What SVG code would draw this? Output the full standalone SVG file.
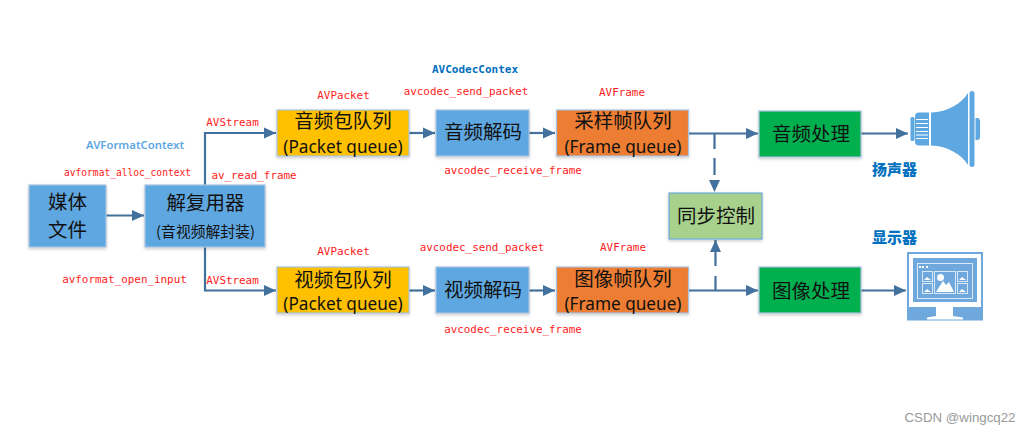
<svg xmlns="http://www.w3.org/2000/svg" width="1029" height="433" viewBox="0 0 1029 433">
<style>
text{font-family:"Noto Sans CJK SC","Noto Sans",sans-serif;text-anchor:middle;fill:#111}
.b{stroke:#a9c4e0;stroke-width:1.2;filter:url(#sh)}
.blue{fill:#5ea7e0}.yel{fill:#ffc000}.org{fill:#ed7d31}.grn{fill:#00b050}
.z{font-size:19.5px}.q{font-size:17.2px;font-family:"Noto Sans","Noto Sans CJK SC",sans-serif}
.s{font-size:14.8px}
.r{font-family:"DejaVu Sans Mono","Liberation Mono",monospace;font-size:10.9px;fill:#ff1a1a}
.t{font-family:"DejaVu Sans Mono","Liberation Mono",monospace;font-size:11px;font-weight:bold}
.l{font-size:15px;font-weight:900;fill:#0070c0}
.c{fill:none;stroke:#41719c;stroke-width:2.2}
.ic{fill:#5ea7e0}.w{fill:#fff}.m{fill:#6fa8dc}
</style>
<defs>
<filter id="sh" x="-10%" y="-10%" width="120%" height="125%"><feDropShadow dx="0" dy="1.5" stdDeviation="1.5" flood-color="#000" flood-opacity=".2"/></filter>
<marker id="a" markerUnits="userSpaceOnUse" markerWidth="13" markerHeight="12" refX="12" refY="6" orient="auto"><path d="M0,0.5L12,6L0,11.500z" fill="#41719c"/></marker>
</defs>
<g id="connectors">
<path class="c" marker-end="url(#a)" d="M106,215.500H144"/>
<path class="c" marker-end="url(#a)" d="M205,185V133H276"/>
<path class="c" marker-end="url(#a)" d="M205,247V290.500H276"/>
<path class="c" marker-end="url(#a)" d="M409,133H435"/>
<path class="c" marker-end="url(#a)" d="M529,133H555"/>
<path class="c" marker-end="url(#a)" d="M688,133.500H758"/>
<path class="c" marker-end="url(#a)" d="M409,290.500H435"/>
<path class="c" marker-end="url(#a)" d="M529,290.500H555"/>
<path class="c" marker-end="url(#a)" d="M688,290.500H758"/>
<path class="c" marker-end="url(#a)" d="M861,133.500H908"/>
<path class="c" marker-end="url(#a)" d="M861,290.500H906"/>
<path class="c" stroke-dasharray="16 9 17 100" marker-end="url(#a)" d="M714.500,133V192"/>
<path class="c" stroke-dasharray="14 10 26 100" marker-end="url(#a)" d="M715.500,290V240"/>
</g>
<g id="n-media"><rect class="b blue" x="29" y="185" width="77" height="62"/><text class="z"><tspan x="67.500" y="209">媒体</tspan><tspan x="67.500" y="237.400">文件</tspan></text></g>
<g id="n-demux"><rect class="b blue" x="145" y="185" width="120" height="62"/><text class="z" x="205.500" y="210">解复用器</text><text class="s" x="205.500" y="236.500">(音视频解封装)</text></g>
<g id="n-apq"><rect class="b yel" x="277" y="110" width="132" height="46"/><text class="z" x="343" y="128">音频包队列</text><text class="q" x="343" y="153">(Packet queue)</text></g>
<g id="n-vpq"><rect class="b yel" x="277" y="267" width="132" height="46"/><text class="z" x="343" y="287">视频包队列</text><text class="q" x="343" y="310">(Packet queue)</text></g>
<g id="n-adec"><rect class="b blue" x="436" y="110" width="93" height="46"/><text class="z" x="483" y="139">音频解码</text></g>
<g id="n-vdec"><rect class="b blue" x="436" y="267" width="93" height="46"/><text class="z" x="483" y="297">视频解码</text></g>
<g id="n-afq"><rect class="b org" x="556.500" y="110" width="132" height="46"/><text class="z" x="623" y="128">采样帧队列</text><text class="q" x="623" y="153">(Frame queue)</text></g>
<g id="n-vfq"><rect class="b org" x="556.500" y="267" width="132" height="46"/><text class="z" x="623" y="286">图像帧队列</text><text class="q" x="623" y="310">(Frame queue)</text></g>
<g id="n-aproc"><rect class="b grn" x="759" y="111" width="102" height="46"/><text class="z" x="811" y="141">音频处理</text></g>
<g id="n-vproc"><rect class="b grn" x="759" y="267" width="102" height="46"/><text class="z" x="811" y="298">图像处理</text></g>
<g id="n-sync"><rect class="b" x="669" y="193" width="93" height="46" style="fill:#a9d18e;stroke:#6fa8dc"/><text class="z" x="716" y="223">同步控制</text></g>
<g id="labels">
<text x="135" y="149" textLength="98" lengthAdjust="spacingAndGlyphs" style="font-family:'Noto Sans',sans-serif;font-size:11.5px;font-weight:600;fill:#5ea7e0">AVFormatContext</text>
<text class="t" x="475" y="73" style="fill:#0070c0">AVCodecContex</text>
<text class="r" x="127.500" y="176" textLength="127" lengthAdjust="spacingAndGlyphs">avformat_alloc_context</text>
<text class="r" x="254" y="179">av_read_frame</text>
<text class="r" x="232.500" y="126">AVStream</text>
<text class="r" x="343.500" y="99">AVPacket</text>
<text class="r" x="466" y="95">avcodec_send_packet</text>
<text class="r" x="622" y="96">AVFrame</text>
<text class="r" x="513" y="174">avcodec_receive_frame</text>
<text class="r" x="124.500" y="283">avformat_open_input</text>
<text class="r" x="232.500" y="284">AVStream</text>
<text class="r" x="343.500" y="255">AVPacket</text>
<text class="r" x="482" y="251">avcodec_send_packet</text>
<text class="r" x="623" y="251">AVFrame</text>
<text class="r" x="513" y="333">avcodec_receive_frame</text>
<text class="l" x="894.500" y="175">扬声器</text>
<text class="l" x="894.500" y="243">显示器</text>
<text x="960" y="421.500" style="font-family:'Liberation Sans',sans-serif;font-size:13.300px;fill:#999">CSDN @wingcq22</text>
</g>
<g id="n-speaker">
<rect class="ic" x="910.500" y="117" width="4" height="24" rx="1.500"/>
<path class="ic" d="M919,112.500H929V145.500H919a4,4 0 0 1-4-4V116.500a4,4 0 0 1 4-4z"/>
<path class="ic" d="M931,112.500C948,112 962,103 968,93V165C962,155 948,146 931,145.500z"/>
<rect class="ic" x="969.500" y="91" width="5" height="76" rx="2.500"/>
<path class="ic" d="M975.500,118H977a3,3 0 0 1 3,3V137a3,3 0 0 1-3,3H975.500z"/>
<path stroke="#fff" stroke-width="1" d="M916,119.500H928M916,123.500H928M916,127.500H928M916,131.500H928M916,135H928M916,138.500H928"/>
</g>
<g id="n-monitor">
<rect class="m" x="907" y="252" width="76" height="68.500"/>
<rect class="w" x="909" y="254" width="72" height="53"/>
<path class="w" d="M936,307H953V316L963,317.500V319.500H927V317.500L936,316z"/>
<rect class="m" x="913" y="258" width="64" height="44"/>
<rect x="917.500" y="263.500" width="55" height="35" fill="none" stroke="#d8e8f6" stroke-width="1"/>
<rect x="919" y="266" width="2" height="2" class="w"/><rect x="922" y="266" width="2" height="2" class="w"/><rect x="926" y="266" width="2" height="2" class="w"/>
<g fill="none" stroke="#d8e8f6" stroke-width="1"><rect x="922.500" y="271.500" width="10" height="10"/><rect x="922.500" y="283.500" width="10" height="10"/><rect x="957.500" y="271.500" width="10" height="10"/><rect x="957.500" y="283.500" width="10" height="10"/><rect x="934.500" y="271.500" width="21" height="22"/></g>
<path class="w" d="M936,292L943,281L946,285L949,282L954,292z"/><circle class="w" cx="940.500" cy="277.500" r="3.500"/>
<path class="w" d="M924,280L927,277L931,280zM924,292L927,289L931,292zM959,280L962,277L966,280zM959,292L962,289L966,292z"/>
</g>
</svg>
